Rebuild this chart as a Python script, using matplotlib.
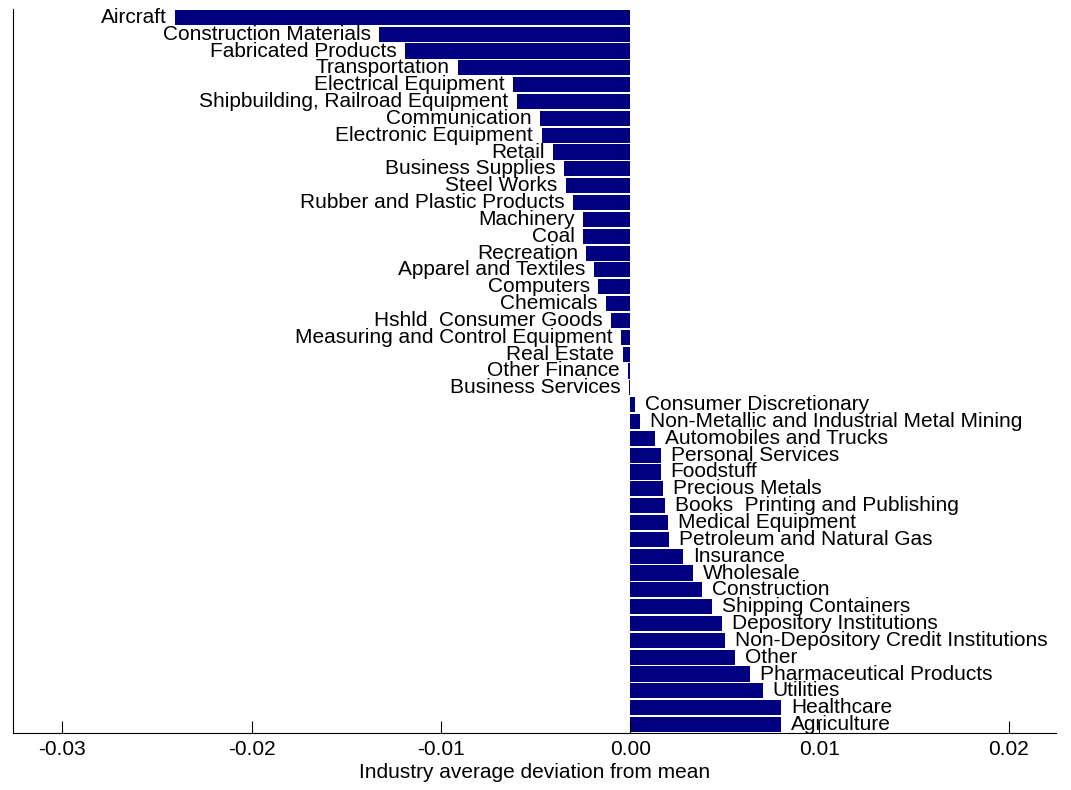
import matplotlib.pyplot as plt
import numpy as np

plt.rcParams['font.family'] = ['Liberation Sans', 'DejaVu Sans']

# industries, top to bottom
industries = ['Aircraft', 'Construction Materials', 'Fabricated Products', 'Transportation',
              'Electrical Equipment', 'Shipbuilding, Railroad Equipment', 'Communication',
              'Electronic Equipment', 'Retail', 'Business Supplies', 'Steel Works',
              'Rubber and Plastic Products', 'Machinery', 'Coal', 'Recreation',
              'Apparel and Textiles', 'Computers', 'Chemicals', 'Hshld  Consumer Goods',
              'Measuring and Control Equipment', 'Real Estate', 'Other Finance',
              'Business Services', 'Consumer Discretionary',
              'Non-Metallic and Industrial Metal Mining', 'Automobiles and Trucks',
              'Personal Services', 'Foodstuff', 'Precious Metals',
              'Books  Printing and Publishing', 'Medical Equipment',
              'Petroleum and Natural Gas', 'Insurance', 'Wholesale', 'Construction',
              'Shipping Containers', 'Depository Institutions',
              'Non-Depository Credit Institutions', 'Other', 'Pharmaceutical Products',
              'Utilities', 'Healthcare', 'Agriculture']
deviation = [-0.02405, -0.01325, -0.0119, -0.0091, -0.0062, -0.006, -0.00478, -0.00468,
             -0.00405, -0.0035, -0.0034, -0.00302, -0.0025, -0.0025, -0.00232, -0.0019,
             -0.0017, -0.00128, -0.001, -0.0005, -0.00038, -0.0001, -0.00005,
             0.00026, 0.00053, 0.00132, 0.00162, 0.00162, 0.00173, 0.00183, 0.002,
             0.00205, 0.0028, 0.00333, 0.0038, 0.00433, 0.00485, 0.005, 0.00555,
             0.00632, 0.007, 0.00798, 0.00798]
xticks = [-0.03, -0.02, -0.01, 0.0, 0.01, 0.02]

fig = plt.figure(figsize=(10.71, 7.9), dpi=100)
ax = fig.add_axes([0.0121, 0.0722, 0.974, 0.9165])

n = len(industries)
y = np.arange(n)[::-1]
ax.barh(y, deviation, height=0.9, color='#000080')

for yi, v, name in zip(y, deviation, industries):
    if v < 0:
        ax.annotate(name, (v, yi), xytext=(-6, 0), textcoords='offset points',
                    ha='right', va='center', fontsize=15)
    else:
        ax.annotate(name, (v, yi), xytext=(7, 0), textcoords='offset points',
                    ha='left', va='center', fontsize=15)

ax.set_xlim(-0.0326, 0.0225)
ax.set_ylim(-0.5, n - 0.5)
ax.set_xticks(xticks)
ax.set_xticklabels(['-0.03', '-0.02', '-0.01', '0.00', '0.01', '0.02'], fontsize=15)
ax.tick_params(axis='x', direction='in', length=9, pad=5)
ax.set_yticks([])
ax.spines['top'].set_visible(False)
ax.spines['right'].set_visible(False)
ax.set_xlabel('Industry average deviation from mean', fontsize=15, labelpad=3)

fig.savefig('out.png', dpi=100)
